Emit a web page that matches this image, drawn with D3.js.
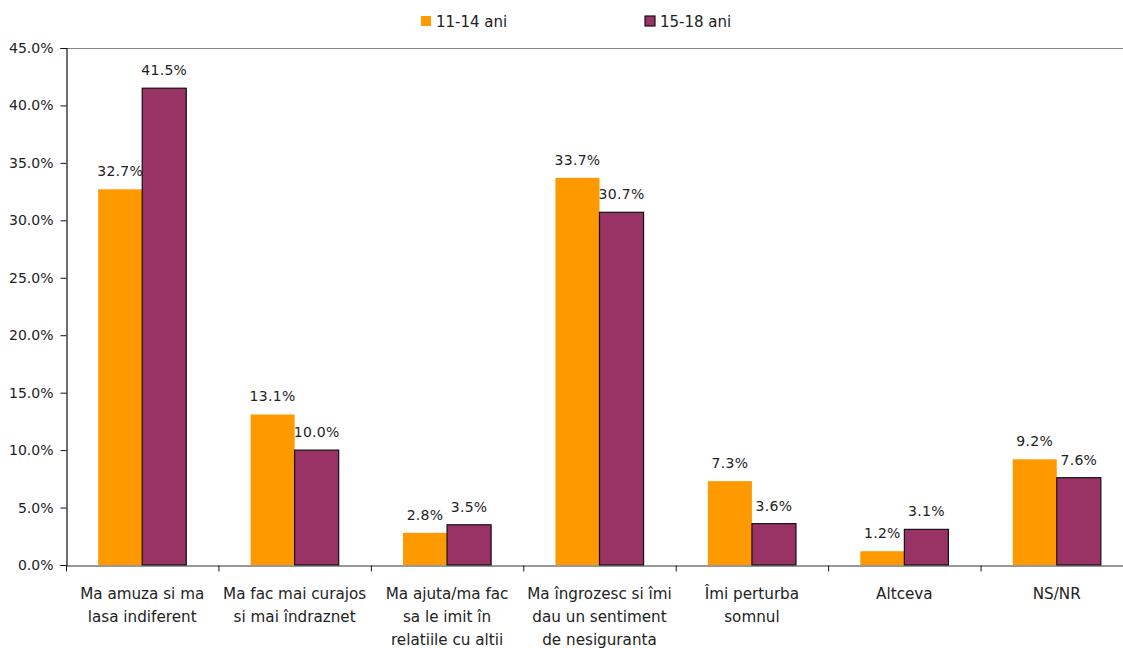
<!DOCTYPE html>
<html>
<head>
<meta charset="utf-8">
<script src="https://cdn.jsdelivr.net/npm/d3@7"></script>
<style>
  html, body { margin: 0; padding: 0; background: #fff; }
  svg { display: block; }
  text { font-family: "DejaVu Sans", Verdana, sans-serif; fill: #222; }
</style>
</head>
<body>
<svg id="chart" width="1123" height="648"></svg>
<script>
const categories = [
  ["Ma amuza si ma", "lasa indiferent"],
  ["Ma fac mai curajos", "si mai îndraznet"],
  ["Ma ajuta/ma fac", "sa le imit în", "relatiile cu altii"],
  ["Ma îngrozesc si îmi", "dau un sentiment", "de nesiguranta"],
  ["Îmi perturba", "somnul"],
  ["Altceva"],
  ["NS/NR"]
];
const seriesNames = ["11-14 ani", "15-18 ani"];
const values1114 = [32.7, 13.1, 2.8, 33.7, 7.3, 1.2, 9.2];
const values1518 = [41.5, 10.0, 3.5, 30.7, 3.6, 3.1, 7.6];
const yTicks = [0, 5, 10, 15, 20, 25, 30, 35, 40, 45];
const colors = ["#FF9900", "#993366"];

const svg = d3.select("#chart");
const plotLeft = 66, plotRight = 1133, plotTop = 48, plotBottom = 565;

const x = d3.scaleBand().domain(d3.range(categories.length)).range([plotLeft, plotRight]);
const xs = d3.scaleBand().domain([0, 1]).range([0, x.bandwidth()]).paddingInner(0).paddingOuter(0.73);
const y = d3.scaleLinear().domain([0, 45]).range([plotBottom, plotTop]);

// top border of plot area
svg.append("line")
  .attr("x1", plotLeft).attr("x2", plotRight)
  .attr("y1", y(45) + 0.5).attr("y2", y(45) + 0.5)
  .attr("stroke", "#888").attr("stroke-width", 1.2);

const series = [values1114, values1518];
series.forEach((vals, s) => {
  const g = svg.append("g");
  g.selectAll("rect").data(vals).join("rect")
    .attr("x", (d, i) => x(i) + xs(s))
    .attr("y", d => y(d))
    .attr("width", xs.bandwidth())
    .attr("height", d => y(0) - y(d))
    .attr("fill", colors[s])
    .attr("stroke", s === 1 ? "#111" : "none")
    .attr("stroke-width", 1.2);
  g.selectAll("text").data(vals).join("text")
    .attr("x", (d, i) => x(i) + xs(s) + xs.bandwidth() / 2)
    .attr("y", d => y(d) - 13)
    .attr("text-anchor", "middle")
    .attr("font-size", 14)
    .attr("letter-spacing", 0.3)
    .text(d => d.toFixed(1) + "%");
});

// y axis
const yAxis = svg.append("g")
  .attr("transform", `translate(${plotLeft + 0.5},0)`)
  .call(d3.axisLeft(y).tickValues(yTicks).tickSize(6).tickPadding(7).tickFormat(d => d.toFixed(1) + "%"));
yAxis.select(".domain").attr("stroke", "#111").attr("stroke-width", 1.2);
yAxis.selectAll(".tick line").attr("stroke", "#111");
yAxis.selectAll(".tick text").attr("font-size", 14).attr("font-family", "DejaVu Sans, sans-serif").attr("fill", "#222");

// x axis
const xAxis = svg.append("g")
  .attr("transform", `translate(0,${plotBottom + 0.5})`)
  .call(d3.axisBottom(x).tickValues([]).tickSizeOuter(0));
xAxis.select(".domain").attr("stroke", "#333").attr("stroke-width", 1.2);
xAxis.selectAll(".sep").data(d3.range(categories.length + 1)).join("line")
  .attr("class", "sep")
  .attr("x1", i => (i < categories.length ? x(i) : plotRight) + 0.5)
  .attr("x2", i => (i < categories.length ? x(i) : plotRight) + 0.5)
  .attr("y1", 0).attr("y2", 6)
  .attr("stroke", "#111");

const labels = svg.append("g");
categories.forEach((lines, i) => {
  const t = labels.append("text")
    .attr("x", x(i) + x.bandwidth() / 2)
    .attr("y", plotBottom + 34)
    .attr("text-anchor", "middle")
    .attr("font-size", 15.2);
  lines.forEach((ln, k) => {
    t.append("tspan").attr("x", x(i) + x.bandwidth() / 2).attr("dy", k === 0 ? 0 : 23).text(ln);
  });
});

// legend
const legend = svg.append("g");
const legendX = [421, 645];
seriesNames.forEach((name, s) => {
  legend.append("rect")
    .attr("x", legendX[s]).attr("y", 16).attr("width", 10).attr("height", 10)
    .attr("fill", colors[s])
    .attr("stroke", s === 1 ? "#111" : "none").attr("stroke-width", 1.2);
  legend.append("text")
    .attr("x", legendX[s] + 15).attr("y", 27)
    .attr("font-size", 15)
    .text(name);
});
</script>
</body>
</html>
